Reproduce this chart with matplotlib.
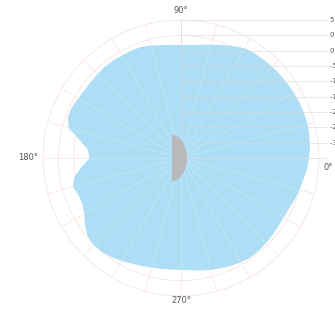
import numpy as np
import matplotlib.pyplot as plt
from matplotlib.patches import Circle

# radiation pattern (angle in deg, radius in ring units)
angles = list(range(0, 360, 5))
radius = [8.35, 8.45, 8.50, 8.55, 8.55, 8.53, 8.50, 8.47, 8.45, 8.42, 8.38, 8.35,
          8.28, 8.05, 7.85, 7.65, 7.50, 7.40, 7.37, 7.40, 7.48, 7.60, 7.70, 7.72,
          7.72, 7.75, 7.75, 7.72, 7.70, 7.70, 7.75, 7.85, 7.85, 7.60, 6.70, 6.10,
          5.95, 6.50, 7.05, 7.30, 7.10, 7.10, 7.30, 7.65, 7.95, 8.05, 8.00, 7.90,
          7.75, 7.60, 7.50, 7.40, 7.35, 7.30, 7.30, 7.35, 7.45, 7.55, 7.65, 7.75,
          7.85, 7.90, 7.90, 7.85, 7.80, 7.75, 7.75, 7.78, 7.90, 8.00, 8.10, 8.25]

rings = [1, 2, 3, 4, 5, 6, 7, 8, 9]
ring_labels = ['-30 dB', '-25 dB', '-20 dB', '-15 dB', '-10 dB', '-5 dB', '0 dB', '0 dB', '5 dB']
spokes = np.arange(0, 360, 15)
axis_labels = ['0°', '90°', '180°', '270°']

# device outline (half ellipse): left x, width, half height
dev_x, dev_w, dev_h = -0.59, 0.98, 1.50

px = 15.33          # pixels per ring unit
cx, cy = 181, 158   # centre in pixels (from top-left)
W, H = 335, 315

fig = plt.figure(figsize=(W / 100, H / 100), dpi=100)
ax = fig.add_axes([0, 0, 1, 1])
ax.set_xlim(-cx / px, (W - cx) / px)
ax.set_ylim(-(H - cy) / px, cy / px)
ax.set_aspect('equal')
ax.axis('off')

grid_c = '#f6e0d8'
for r in rings:
    ax.add_patch(Circle((0, 0), r, fill=False, ec=grid_c, lw=0.5, zorder=1))
for a in spokes:
    t = np.deg2rad(a)
    ax.plot([0, 9 * np.cos(t)], [0, 9 * np.sin(t)], color=grid_c, lw=0.5, zorder=1)

th = np.deg2rad(np.array(angles + [angles[0]]))
rr = np.array(radius + [radius[0]])
ax.fill(rr * np.cos(th), rr * np.sin(th), color='#aedef5', lw=0, zorder=2)

# lighter spokes over the fill
for a in spokes:
    t = np.deg2rad(a)
    ax.plot([0, 9 * np.cos(t)], [0, 9 * np.sin(t)], color='white', lw=0.5, alpha=0.3, zorder=3)

# horizontal reference lines out to the right
for r, lab in zip([0] + rings, [''] + ring_labels):
    ax.plot([0, 9.5], [r, r], color='#d8d8d8', lw=0.5, alpha=0.8, zorder=3)
    ax.text(9.7, r, lab, fontsize=5, color='#555555', va='center', ha='left')
ax.plot([0, 0], [0, 9], color='#d8d8d8', lw=0.5, alpha=0.8, zorder=3)

# device
t = np.linspace(-np.pi / 2, np.pi / 2, 60)
ax.fill(np.r_[dev_x + dev_w * np.cos(t), dev_x], np.r_[dev_h * np.sin(t), -dev_h],
        color='#b9b9b9', lw=0, zorder=4)

ax.text(9.62, -0.65, axis_labels[0], fontsize=6, color='#555555', ha='center', va='center')
ax.text(0, 9.65, axis_labels[1], fontsize=6, color='#555555', ha='center', va='center')
ax.text(-10.0, 0, axis_labels[2], fontsize=6, color='#555555', ha='center', va='center')
ax.text(0, -9.3, axis_labels[3], fontsize=6, color='#555555', ha='center', va='center')

fig.savefig('out.png', dpi=100)
